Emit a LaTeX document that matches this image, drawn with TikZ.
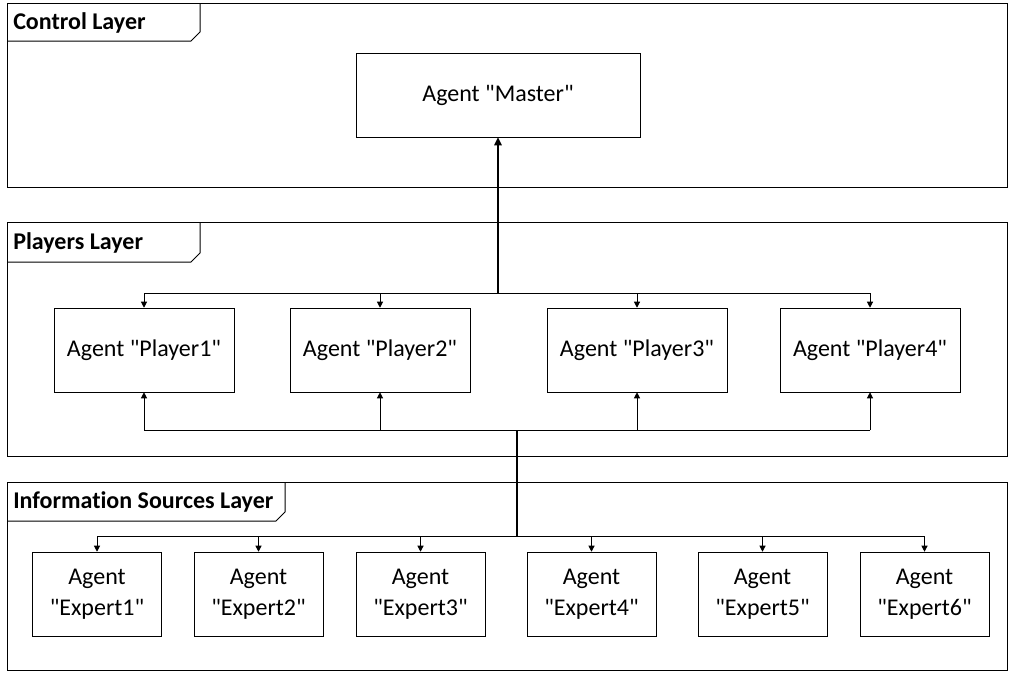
\documentclass[tikz,border=0pt]{standalone}
\usepackage{fontspec}
\setmainfont{Carlito}[Ligatures=NoCommon]
\usetikzlibrary{arrows.meta,positioning,calc}
\newcommand{\qd}{\textquotedbl}

\begin{document}
\begin{tikzpicture}
 [
  x=0.75pt, y=-0.75pt,
  agent/.style={draw, thin, fill=white, inner sep=2pt, minimum height=63pt, font=\fontsize{18}{23}\selectfont, align=center},
  layertitle/.style={anchor=west, inner sep=0pt, font=\fontsize{18}{21}\selectfont\bfseries},
  frame/.style={draw, line width=0.75pt},
  bus/.style={draw, line width=0.75pt},
  trunk/.style={draw, line width=1.5pt},
  down/.style={bus, -{Triangle[length=4.5pt,width=4.5pt]}},
  up/.style={trunk, -{Triangle[length=6pt,width=5.5pt]}},
 ]
  \useasboundingbox (0,0) rectangle (1009,672);

  % layers
  \draw[frame] (7,3) rectangle (1007,187);
  \draw[frame] (7,41) -- (191,41) -- (200,32) -- (200,3);
  \node[layertitle] (ctltitle) at (13,23) {Control Layer};

  \draw[frame] (7,222) rectangle (1007,456);
  \draw[frame] (7,262) -- (191,262) -- (200,253) -- (200,222);
  \node[layertitle] (plytitle) at (13,243) {Players Layer};

  \draw[frame] (7,482) rectangle (1007,670);
  \draw[frame] (7,521) -- (276,521) -- (285,512) -- (285,482);
  \node[layertitle] (inftitle) at (13,502) {Information Sources Layer};

  % agents
  \node[agent, minimum width=213pt] (master) at (498,95) {Agent \qd Master\qd};

  \node[agent, minimum width=135pt] (p1) at (144,350) {Agent \qd Player1\qd};
  \node[agent, minimum width=135pt] (p2) at (380,350) {Agent \qd Player2\qd};
  \node[agent, minimum width=135pt] (p3) at (637,350) {Agent \qd Player3\qd};
  \node[agent, minimum width=135pt] (p4) at (870,350) {Agent \qd Player4\qd};

  \node[agent, minimum width=96.75pt] (e1) at (97,594) {Agent\\\qd Expert1\qd};
  \node[agent, minimum width=96.75pt] (e2) at (258.5,594) {Agent\\\qd Expert2\qd};
  \node[agent, minimum width=96.75pt] (e3) at (420.5,594) {Agent\\\qd Expert3\qd};
  \node[agent, minimum width=96.75pt] (e4) at (591.5,594) {Agent\\\qd Expert4\qd};
  \node[agent, minimum width=96.75pt] (e5) at (762.5,594) {Agent\\\qd Expert5\qd};
  \node[agent, minimum width=96.75pt] (e6) at (924.5,594) {Agent\\\qd Expert6\qd};

  % connectors
  \coordinate (ptop) at (498,293);
  \coordinate (pbot) at (517,430);
  \coordinate (ebus) at (517,536);

  \draw[up] (ptop) -- (master.south);
  \draw[bus] (p1.north |- ptop) -- (p4.north |- ptop);
  \foreach \p in {p1,p2,p3,p4}
    \draw[down] (\p.north |- ptop) -- (\p.north);

  \draw[bus] (p1.south |- pbot) -- (p4.south |- pbot);
  \foreach \p in {p1,p2,p3,p4}
    \draw[down] (\p.south |- pbot) -- (\p.south);

  \draw[trunk] (pbot) -- (ebus);
  \draw[bus] (e1.north |- ebus) -- (e6.north |- ebus);
  \foreach \e in {e1,e2,e3,e4,e5,e6}
    \draw[down] (\e.north |- ebus) -- (\e.north);
\end{tikzpicture}
\end{document}
